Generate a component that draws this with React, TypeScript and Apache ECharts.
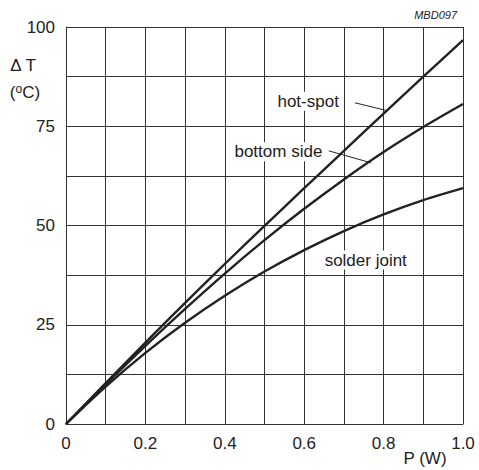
import React, { useEffect, useRef } from "react";
import * as echarts from "echarts";

const powerW = [0, 0.1, 0.2, 0.3, 0.4, 0.5, 0.6, 0.7, 0.8, 0.9, 1.0];
const hotSpot = [0, 10.3, 20.5, 30.5, 40.3, 49.9, 59.4, 68.8, 78.2, 87.5, 96.7];
const bottomSide = [0, 10.0, 19.7, 29.0, 37.9, 46.3, 54.2, 61.6, 68.5, 74.8, 80.6];
const solderJoint = [0, 9.4, 17.9, 25.5, 32.3, 38.4, 43.8, 48.6, 52.8, 56.4, 59.4];

const xTickLabels = ["0", "0.2", "0.4", "0.6", "0.8", "1.0"];
const yTickLabels = ["0", "25", "50", "75", "100"];

// annotation anchors in data coordinates
const labels = [
  { text: "hot-spot", at: [0.61, 81.3], leader: [[0.728, 80.9], [0.806, 79.0]] },
  { text: "bottom side", at: [0.535, 68.6], leader: [[0.662, 68.8], [0.768, 65.8]] },
  { text: "solder joint", at: [0.755, 41.3], leader: null as null | number[][] },
];

const FONT = "'Liberation Sans', Arial, Helvetica, sans-serif";
const INK = "#222";
const FS = 17;

export default function App() {
  const ref = useRef<HTMLDivElement>(null);
  useEffect(() => {
    if (!ref.current) return;
    const chart = echarts.init(ref.current, undefined, { renderer: "svg" });
    const toPairs = (ys: number[]) => powerW.map((x, i) => [x, ys[i]]);
    const lineStyle = { color: INK, width: 2.4 };
    chart.setOption({
      animation: false,
      backgroundColor: "#fff",
      grid: { left: 66, top: 27, right: 16, bottom: 46 },
      xAxis: {
        type: "value",
        min: 0,
        max: 1,
        interval: 0.1,
        axisLine: { show: true, lineStyle: { color: "#333", width: 1 } },
        axisTick: { show: false },
        splitLine: { show: true, lineStyle: { color: "#333", width: 1 } },
        axisLabel: {
          color: INK,
          fontFamily: FONT,
          fontSize: FS,
          margin: 11,
          formatter: (v: number) => {
            const k = Math.round(v * 10);
            return k % 2 === 0 ? xTickLabels[k / 2] : "";
          },
        },
      },
      yAxis: {
        type: "value",
        min: 0,
        max: 100,
        interval: 12.5,
        axisLine: { show: true, lineStyle: { color: "#333", width: 1 } },
        axisTick: { show: false },
        splitLine: { show: true, lineStyle: { color: "#333", width: 1 } },
        axisLabel: {
          color: INK,
          fontFamily: FONT,
          fontSize: FS,
          margin: 11,
          formatter: (v: number) => {
            const k = Math.round(v / 12.5);
            return k % 2 === 0 ? yTickLabels[k / 2] : "";
          },
        },
      },
      series: [
        { name: "hot-spot", type: "line", data: toPairs(hotSpot), smooth: 0.3, showSymbol: false, lineStyle },
        { name: "bottom side", type: "line", data: toPairs(bottomSide), smooth: 0.3, showSymbol: false, lineStyle },
        { name: "solder joint", type: "line", data: toPairs(solderJoint), smooth: 0.3, showSymbol: false, lineStyle },
      ],
    });

    const px = (p: number[]) => chart.convertToPixel({ gridIndex: 0 }, p) as number[];
    const elements: any[] = [];
    labels.forEach((l) => {
      const c = px(l.at);
      elements.push({
        type: "text",
        x: c[0],
        y: c[1],
        z: 100,
        style: {
          text: l.text,
          fill: INK,
          font: `${FS}px ${FONT}`,
          align: "center",
          verticalAlign: "middle",
          backgroundColor: "#fff",
          padding: [1, 2, 1, 2],
        },
      });
      if (l.leader) {
        const a = px(l.leader[0]);
        const b = px(l.leader[1]);
        elements.push({
          type: "line",
          z: 100,
          shape: { x1: a[0], y1: a[1], x2: b[0], y2: b[1] },
          style: { stroke: INK, lineWidth: 1 },
        });
      }
    });
    elements.push(
      { type: "text", x: 23, y: 65, style: { text: "\u0394 T", fill: INK, font: `${FS}px ${FONT}`, align: "center", verticalAlign: "middle" } },
      {
        type: "text",
        x: 25,
        y: 92,
        style: {
          text: "({s|o}C)",
          fill: INK,
          font: `${FS}px ${FONT}`,
          align: "center",
          verticalAlign: "middle",
          rich: { s: { fontSize: 12, fontFamily: FONT, fill: INK, verticalAlign: "top", padding: [0, 0, 6, 0] } },
        },
      },
      { type: "text", x: 425, y: 458, style: { text: "P (W)", fill: INK, font: `${FS}px ${FONT}`, align: "center", verticalAlign: "middle" } },
      { type: "text", x: 457, y: 15, style: { text: "MBD097", fill: INK, font: `italic 11px ${FONT}`, align: "right", verticalAlign: "middle" } }
    );
    chart.setOption({ graphic: elements });
    return () => chart.dispose();
  }, []);
  return <div ref={ref} style={{ position: "absolute", left: 0, top: 0, width: 479, height: 470 }} />;
}
